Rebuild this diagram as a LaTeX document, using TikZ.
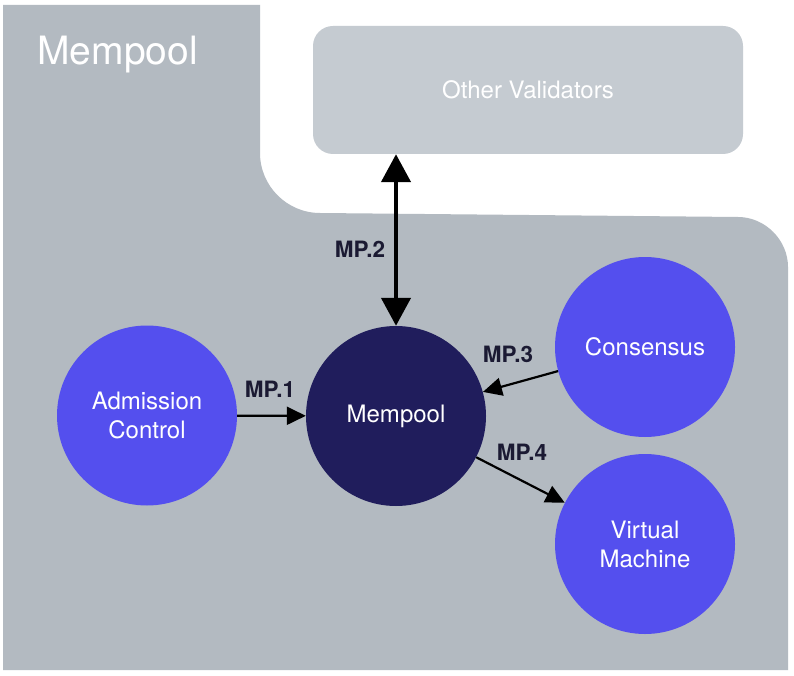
\documentclass[tikz,border=0pt]{standalone}
\usepackage{fontspec}
\setmainfont{TeX Gyre Heros}
\usetikzlibrary{arrows.meta}
\definecolor{bgray}{HTML}{B3BAC1}
\definecolor{boxgray}{HTML}{C5CBD1}
\definecolor{violet}{HTML}{544FEE}
\definecolor{navy}{HTML}{201D5C}
\definecolor{labelc}{HTML}{1B1A33}
\tikzset{
  comp/.style={circle, fill=violet, draw=none, minimum size=180pt, inner sep=0pt,
    text=white, align=center, font=\fontsize{24}{29}\selectfont},
  core/.style={comp, fill=navy},
  lbl/.style={text=labelc, font=\bfseries\fontsize{22.5}{26}\selectfont, inner sep=0pt},
  flow/.style={line width=2.2pt, -{Triangle[length=19pt,width=18pt]}},
  bigflow/.style={line width=4.5pt, {Triangle[length=28pt,width=29pt]}-{Triangle[length=28pt,width=29pt]}},
}
\begin{document}
\begin{tikzpicture}[x=1pt,y=-1pt]
\useasboundingbox (0,0) rectangle (794,676);
\fill[white] (0,0) rectangle (794,676);
% background region
\fill[bgray] (3,5) -- (260,5) -- (260,153)
  .. controls (260,186) and (287,213) .. (320,213)
  -- (738,217)
  .. controls (765,217) and (788,240) .. (788,267)
  -- (788,670) -- (3,670) -- cycle;
\node[anchor=base west, text=white, font=\fontsize{39}{44}\selectfont, inner sep=0pt] (title) at (37,65) {Mempool};
% other validators
\node[fill=boxgray, rounded corners=20pt, minimum width=430pt, minimum height=128pt,
  inner sep=0pt, text=white, font=\fontsize{24}{29}\selectfont] (ov) at (528,90) {Other Validators};
% circles
\node[comp] (ac) at (147,415.5) {Admission\\Control};
\node[core] (mp) at (396,416) {Mempool};
\node[comp] (cs) at (645,347) {Consensus};
\node[comp] (vm) at (645,544) {Virtual\\Machine};
% connectors
\draw[bigflow] (ov.south -| mp.north) -- (mp.north);
\draw[flow] (ac) -- (mp);
\draw[flow] (cs) -- (mp);
\draw[flow] (mp) -- (vm);
% labels
\node[lbl] (l1) at (270,389) {MP.1};
\node[lbl] (l2) at (360,249) {MP.2};
\node[lbl] (l3) at (508,354) {MP.3};
\node[lbl] (l4) at (522,452) {MP.4};
\end{tikzpicture}
\end{document}
